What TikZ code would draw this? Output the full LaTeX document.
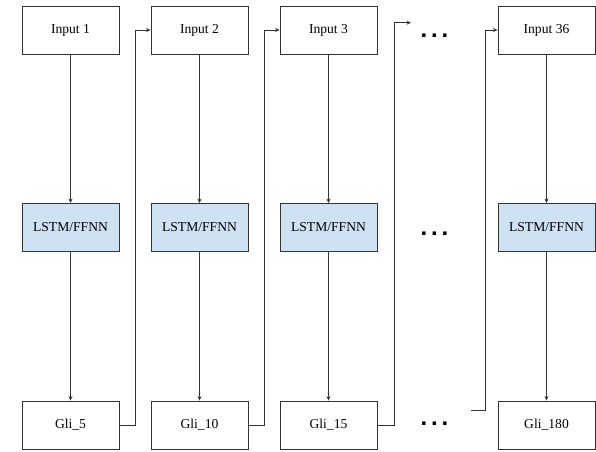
\documentclass[tikz,border=0pt]{standalone}
\usepackage{fontspec}
\setmainfont{Liberation Serif}
\newfontfamily\dotsfont{Liberation Sans}
\usetikzlibrary{arrows.meta}
\definecolor{edge}{HTML}{333333}
\definecolor{cellfill}{HTML}{CFE2F3}
\tikzset{
  box/.style={draw=edge, line width=0.9pt, minimum width=97pt, minimum height=48pt,
    inner sep=0pt, font=\fontsize{13.6pt}{16pt}\selectfont, text=black},
  cell/.style={box, fill=cellfill},
  link/.style={draw=edge, line width=0.8pt, -{Stealth[length=4.5pt,width=4pt]}},
  gap/.style={font=\dotsfont\bfseries\fontsize{24pt}{24pt}\selectfont, inner sep=0pt}
}
\newcommand{\gapdots}{.\hspace{3.8pt}.\hspace{3.8pt}.}
\begin{document}
\begin{tikzpicture}[x=1pt,y=-1pt]
  \useasboundingbox (0,0) rectangle (596,451);

  % three columns and the last one
  \foreach \n/\x/\lbl/\out in {1/70.5/1/5, 2/199.5/2/10, 3/328.5/3/15, 4/546.5/36/180}{
    \node[box]  (in\n)  at (\x,30)    {Input \lbl};
    \node[cell] (nn\n)  at (\x,227.5) {LSTM/FFNN};
    \node[box]  (out\n) at (\x,425)   {Gli\_\out};
    \draw[link] (in\n.south) -- (nn\n.north);
    \draw[link] (nn\n.south) -- (out\n.north);
  }

  % each output feeds the next input
  \draw[link] (out1.east) -- (135,425) |- (in2.west);
  \draw[link] (out2.east) -- (264,425) |- (in3.west);

  % elided columns
  \coordinate (contA) at (411,22.7);
  \coordinate (contB) at (471,410.7);
  \draw[link] (out3.east) -- (394,425) |- (contA);
  \draw[link] (contB) -- (485,410.7) |- (in4.west);

  \node[gap] (dotsTop) at (434.5,36)  {\gapdots};
  \node[gap] (dotsMid) at (434.5,234) {\gapdots};
  \node[gap] (dotsBot) at (434.5,424) {\gapdots};
\end{tikzpicture}
\end{document}
